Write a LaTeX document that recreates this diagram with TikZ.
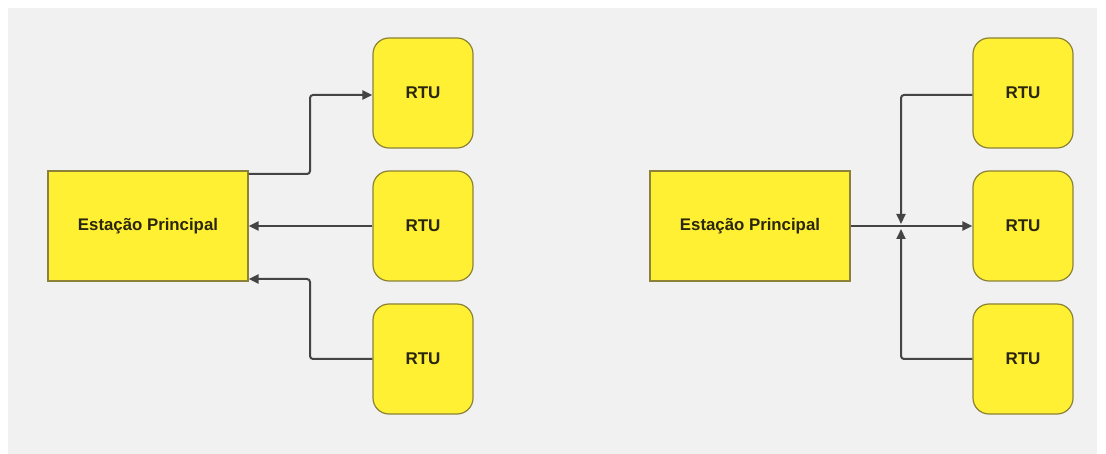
\documentclass[tikz,border=0pt]{standalone}
\usepackage{fontspec}
\setmainfont{Liberation Sans}
\usetikzlibrary{arrows.meta}
\definecolor{bgg}{HTML}{F1F1F1}
\definecolor{boxy}{HTML}{FFF033}
\definecolor{boxb}{HTML}{8C8237}
\definecolor{lineg}{HTML}{444444}
\definecolor{txt}{HTML}{2A260C}
\tikzset{
  mainbox/.style={draw=boxb, line width=1.2pt, fill=boxy, minimum width=200pt, minimum height=110pt, inner sep=0pt, font=\fontsize{16.8}{19}\selectfont\bfseries, text=txt},
  rtubox/.style={draw=boxb, line width=1.2pt, fill=boxy, rounded corners=16pt, minimum width=100pt, minimum height=110pt, inner sep=0pt, font=\fontsize{17}{19}\selectfont\bfseries, text=txt},
  conn/.style={draw=lineg, line width=2pt, rounded corners=3pt, -{Triangle[length=10pt,width=9pt]}}
}
\begin{document}
\begin{tikzpicture}[x=1pt,y=-1pt]
\useasboundingbox (0,0) rectangle (1106,454);
\fill[white] (0,0) rectangle (1106,454);
\fill[bgg] (8,8) rectangle (1097,454);
% left diagram
\node[mainbox] (m1) at (148,226) {Estação Principal};
\node[rtubox] (r1) at (423,93) {RTU};
\node[rtubox] (r2) at (423,226) {RTU};
\node[rtubox] (r3) at (423,359) {RTU};
\draw[conn] (m1.east |- 0,174) -- (310,174) -- (310,95) -- (r1.west |- 0,95);
\draw[conn] (r2.west) -- (m1.east);
\draw[conn] (r3.west) -- (310,359) -- (310,279) -- (m1.east |- 0,279);
% right diagram
\node[mainbox] (m2) at (750,226) {Estação Principal};
\node[rtubox] (s1) at (1023,93) {RTU};
\node[rtubox] (s2) at (1023,226) {RTU};
\node[rtubox] (s3) at (1023,359) {RTU};
\coordinate (jd) at (901,224);
\coordinate (ju) at (901,229);
\draw[conn] (m2.east) -- (s2.west);
\draw[conn] (s1.west |- 0,95) -- (901,95) -- (jd);
\draw[conn] (s3.west) -- (901,359) -- (ju);
\end{tikzpicture}
\end{document}
